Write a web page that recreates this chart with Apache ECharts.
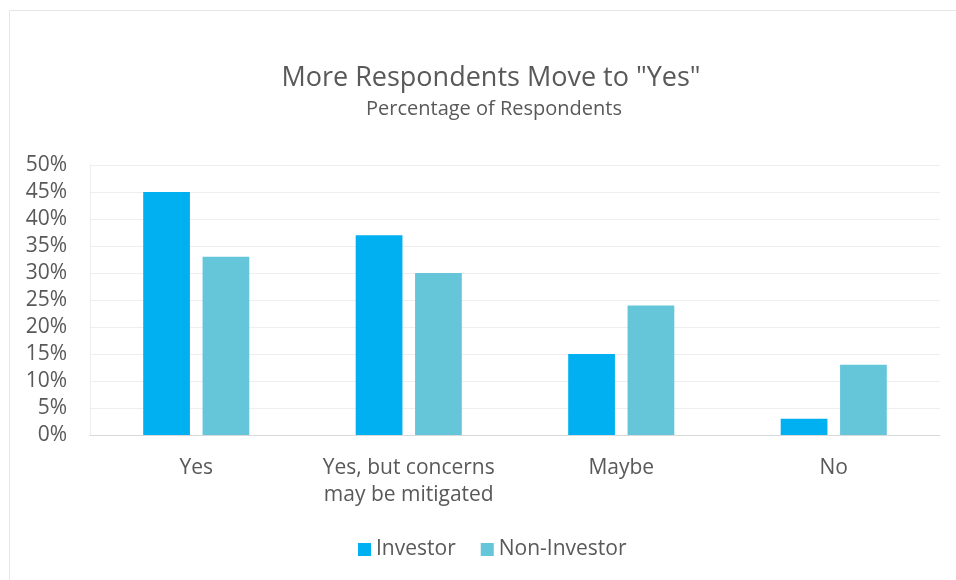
<!DOCTYPE html>
<html>
<head>
<meta charset="utf-8">
<script src="https://cdn.jsdelivr.net/npm/echarts@6/dist/echarts.min.js"></script>
<style>html,body{margin:0;padding:0;background:#fff}#c{width:956px;height:580px}</style>
</head>
<body>
<div id="c"></div>
<script>
const categories = ['Yes', 'Yes, but concerns\nmay be mitigated', 'Maybe', 'No'];
const investor = [45, 37, 15, 3];
const nonInvestor = [33, 30, 24, 13];
const yTicks = [0, 5, 10, 15, 20, 25, 30, 35, 40, 45, 50];

const FONT = '"Open Sans", Lato, sans-serif';
const chart = echarts.init(document.getElementById('c'));
chart.setOption({
  animation: false,
  backgroundColor: '#fff',
  graphic: [{
    type: 'rect', shape: {x: 9.5, y: 10.5, width: 960, height: 600},
    style: {fill: 'none', stroke: '#e6e6e6', lineWidth: 1}, silent: true, z: -10
  }],
  title: [{
    text: 'More Respondents Move to "Yes"',
    left: 486, top: 60, textAlign: 'center',
    textStyle: {fontFamily: FONT, fontSize: 27, fontWeight: 'normal', color: '#595959'}
  }, {
    text: 'Percentage of Respondents',
    left: 489, top: 94, textAlign: 'center',
    textStyle: {fontFamily: FONT, fontSize: 20, fontWeight: 'normal', color: '#595959'}
  }],
  legend: {
    top: 534, left: 353,
    itemWidth: 13, itemHeight: 13, itemGap: 25,
    icon: 'rect',
    textStyle: {fontFamily: FONT, fontSize: 21, color: '#595959'},
    data: ['Investor', 'Non-Investor']
  },
  grid: {left: 90, right: 16, top: 165, bottom: 145, containLabel: false},
  xAxis: {
    type: 'category', data: categories,
    axisLine: {lineStyle: {color: '#d9d9d9'}},
    axisTick: {show: false},
    axisLabel: {fontFamily: FONT, fontSize: 21, color: '#595959', margin: 20, lineHeight: 27, interval: 0}
  },
  yAxis: {
    type: 'value', min: 0, max: 50, interval: 5,
    axisLine: {show: true, lineStyle: {color: '#eeeeee'}},
    axisTick: {show: false},
    splitLine: {lineStyle: {color: '#eeeeee'}},
    axisLabel: {fontFamily: FONT, fontSize: 21, color: '#595959', margin: 23,
      formatter: v => yTicks.includes(v) ? v + '%' : ''}
  },
  series: [{
    name: 'Investor', type: 'bar', data: investor,
    barWidth: '22%', barGap: '27%',
    itemStyle: {color: '#00b0f0'}
  }, {
    name: 'Non-Investor', type: 'bar', data: nonInvestor,
    barWidth: '22%',
    itemStyle: {color: '#66c6d9'}
  }]
});
</script>
</body>
</html>
